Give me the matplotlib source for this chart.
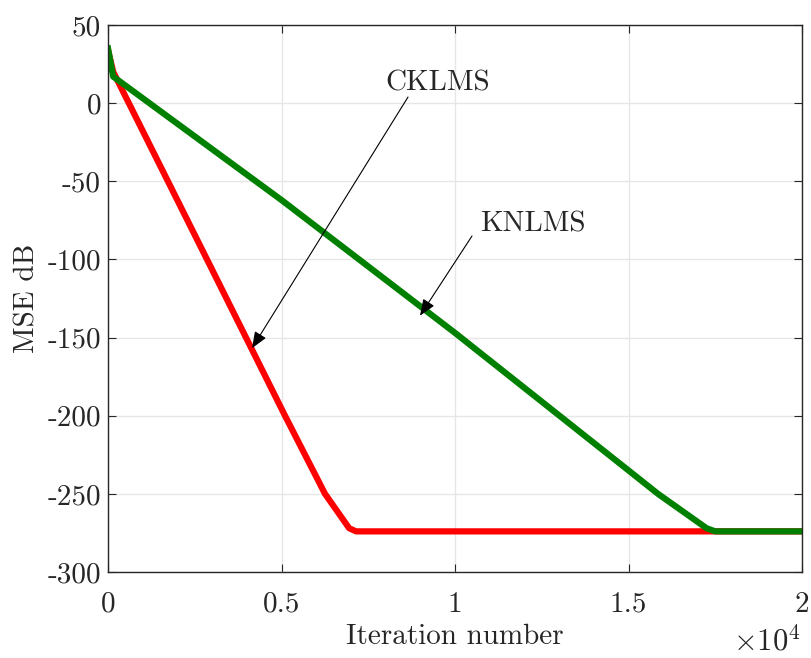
import matplotlib
matplotlib.use("Agg")
import matplotlib.pyplot as plt

plt.rcParams['font.family'] = ['cmr10', 'DejaVu Serif']
plt.rcParams['mathtext.fontset'] = 'cm'
plt.rcParams['axes.unicode_minus'] = False
plt.rcParams['axes.formatter.use_mathtext'] = True

# Data (breakpoints)
ck_iter = [0, 150, 2853, 5101, 6254, 6950, 7150, 20000]
ck_mse = [34, 20, -100, -200, -250, -272, -274, -274]
kn_iter = [0, 150, 5000, 10000, 15000, 15850, 17250, 17500, 20000]
kn_mse = [35, 17, -62, -147, -235, -250, -272, -274, -274]

xticks = [0, 5000, 10000, 15000, 20000]
xtick_labels = ['0', '0.5', '1', '1.5', '2']
yticks = [-300, -250, -200, -150, -100, -50, 0, 50]
ytick_labels = ['-300', '-250', '-200', '-150', '-100', '-50', '0', '50']

fig = plt.figure(figsize=(8.11, 6.58), dpi=100)
ax = fig.add_axes([108/811, 1-572/658, 694/811, 547/658])

ax.plot(ck_iter, ck_mse, color='#ff0000', lw=4.5)
ax.plot(kn_iter, kn_mse, color='#008000', lw=4.5)

ax.set_xlim(0, 20000)
ax.set_ylim(-300, 50)
ax.set_xticks(xticks)
ax.set_xticklabels(xtick_labels)
ax.set_yticks(yticks)
ax.set_yticklabels(ytick_labels)

ax.grid(True, color='#e6e6e6', lw=1.0)
ax.set_axisbelow(True)
for s in ax.spines.values():
    s.set_color('#262626')
    s.set_linewidth(1.0)
ax.tick_params(direction='in', top=True, right=True, length=6, width=0.8,
               colors='#262626', labelsize=21)
ax.tick_params(axis='x', pad=14)
ax.tick_params(axis='y', pad=5)

ax.set_xlabel('Iteration number', fontsize=21, color='#262626', labelpad=4)
ax.set_ylabel('MSE dB', fontsize=21, color='#262626', labelpad=5)

fig.text(801/811, 1-641/658, r'$\times 10^{4}$', fontsize=22, ha='right', va='center', color='#262626')

# annotations
arrow_style = '-|>,head_length=0.5,head_width=0.2'
ax.text(7983, 12.9, 'CKLMS', fontsize=21, ha='left', va='center', color='#262626')
ax.annotate('', xy=(4150, -156.8), xytext=(8646, 3.9),
            arrowprops=dict(arrowstyle=arrow_style, color='k', lw=0.8, mutation_scale=20, shrinkA=0, shrinkB=0))
ax.text(10720, -77.4, 'KNLMS', fontsize=21, ha='left', va='center', color='#262626')
ax.annotate('', xy=(8991, -136), xytext=(10490, -85),
            arrowprops=dict(arrowstyle=arrow_style, color='k', lw=0.8, mutation_scale=20, shrinkA=0, shrinkB=0))

fig.savefig('out.png', dpi=100)
